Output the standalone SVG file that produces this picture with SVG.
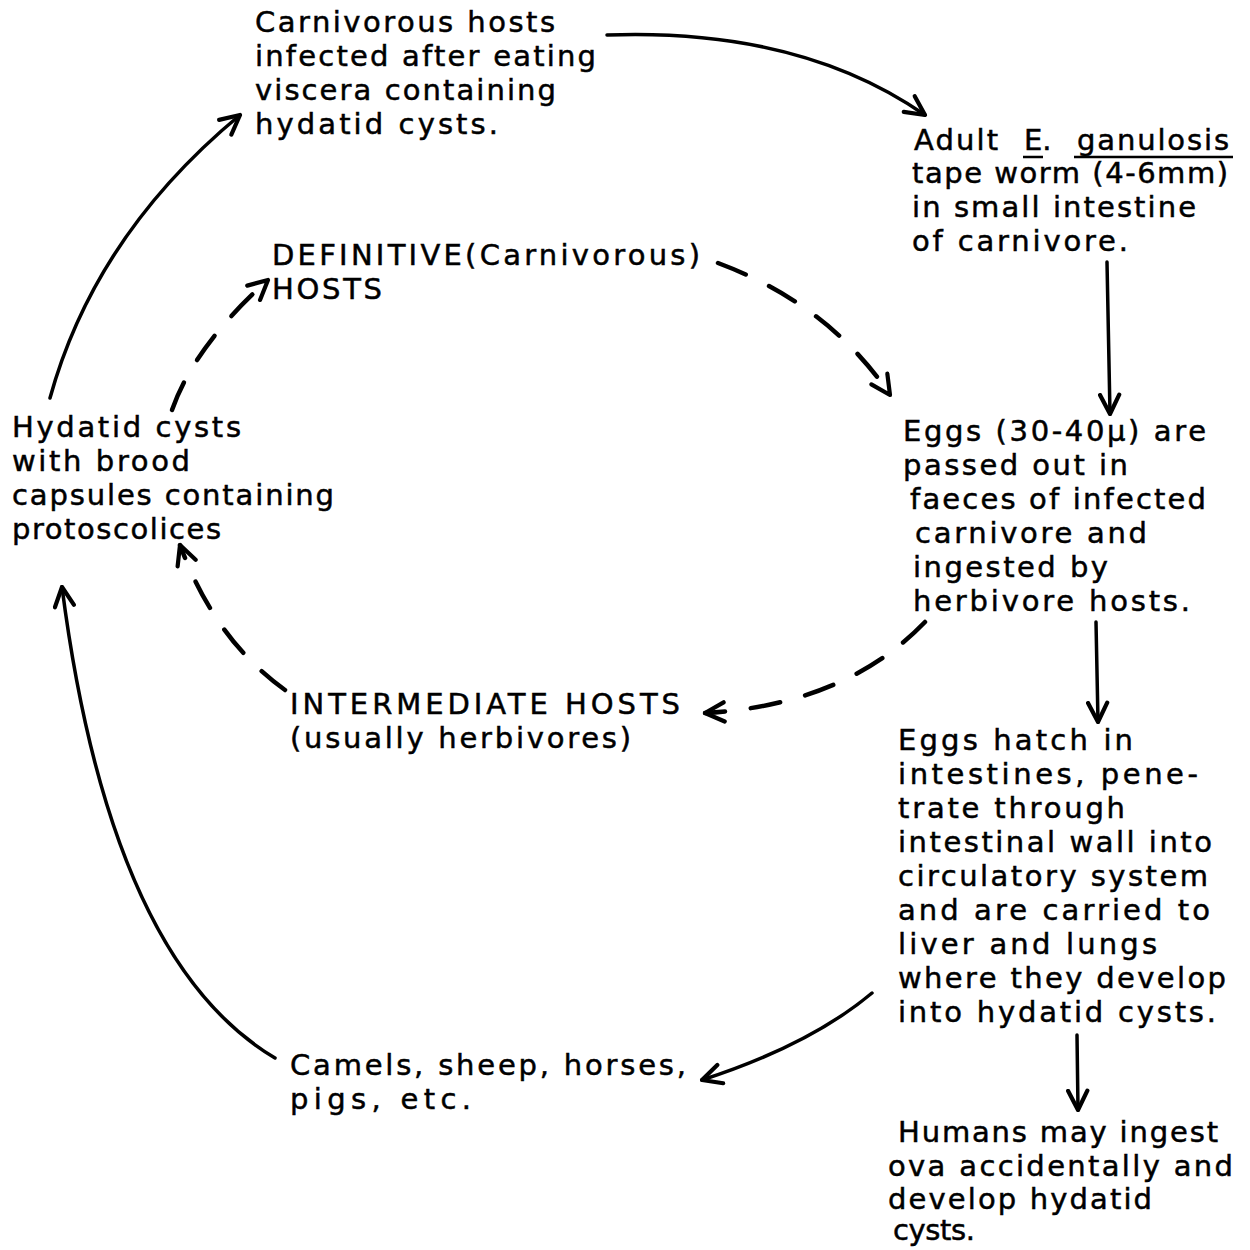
<svg xmlns="http://www.w3.org/2000/svg" width="1250" height="1250" viewBox="0 0 1250 1250">
<style>
text{font-family:"DejaVu Sans","Liberation Sans",sans-serif;font-size:29px;fill:#000;stroke:#000;stroke-width:0.5}
.c{fill:none;stroke:#000;stroke-width:3.5;stroke-linecap:round}
.d{fill:none;stroke:#000;stroke-width:4.5;stroke-linecap:round;stroke-dasharray:30 26}
.u{stroke:#000;stroke-width:2.5}
</style>
<defs>
<marker id="ah" viewBox="0 0 20 20" refX="18" refY="10" markerWidth="24" markerHeight="24" markerUnits="userSpaceOnUse" orient="auto">
<path d="M2 2 L18 10 L2 18" fill="none" stroke="#000" stroke-width="3.5" stroke-linecap="round" stroke-linejoin="round"/>
</marker>
</defs>
<rect width="1250" height="1250" fill="#fff"/>
<g id="connectors">
<path class="c" d="M607 35 Q800 28 925 115" marker-end="url(#ah)"/>
<path class="c" d="M1107 262 L1110 414" marker-end="url(#ah)"/>
<path class="c" d="M1096 622 L1098 722" marker-end="url(#ah)"/>
<path class="c" d="M1077 1035 L1078 1110" marker-end="url(#ah)"/>
<path class="c" d="M872 993 Q810 1045 702 1080" marker-end="url(#ah)"/>
<path class="c" d="M275 1058 Q110 960 62 587" marker-end="url(#ah)"/>
<path class="c" d="M50 398 Q95 235 240 115" marker-end="url(#ah)"/>
<path class="d" d="M172 410 Q195 345 268 280" marker-end="url(#ah)"/>
<path class="d" d="M718 263 Q830 305 890 395" marker-end="url(#ah)"/>
<path class="d" d="M925 622 Q845 705 705 713" marker-end="url(#ah)"/>
<path class="d" d="M285 690 Q215 640 180 545" marker-end="url(#ah)"/>
</g>
<g id="carnivorous-hosts">
<text x="255" y="32" textLength="300" lengthAdjust="spacing">Carnivorous hosts</text>
<text x="255" y="66" textLength="341" lengthAdjust="spacing">infected after eating</text>
<text x="255" y="100" textLength="301" lengthAdjust="spacing">viscera containing</text>
<text x="255" y="134" textLength="243" lengthAdjust="spacing">hydatid cysts.</text>
</g>
<g id="adult-worm">
<text x="914" y="150" textLength="84" lengthAdjust="spacing">Adult</text>
<text x="1024" y="150">E.</text>
<text x="1077" y="150" textLength="152" lengthAdjust="spacing">ganulosis</text>
<line class="u" x1="1023" y1="157" x2="1043" y2="157"/>
<line class="u" x1="1074" y1="157" x2="1233" y2="157"/>
<text x="912" y="183" textLength="316" lengthAdjust="spacing">tape worm (4-6mm)</text>
<text x="912" y="217" textLength="284" lengthAdjust="spacing">in small intestine</text>
<text x="912" y="251" textLength="216" lengthAdjust="spacing">of carnivore.</text>
</g>
<g id="definitive-hosts">
<text x="272" y="265" textLength="428" lengthAdjust="spacing">DEFINITIVE(Carnivorous)</text>
<text x="272" y="299" textLength="110" lengthAdjust="spacing">HOSTS</text>
</g>
<g id="hydatid-cysts">
<text x="12" y="437" textLength="229" lengthAdjust="spacing">Hydatid cysts</text>
<text x="12" y="471" textLength="178" lengthAdjust="spacing">with brood</text>
<text x="12" y="505" textLength="322" lengthAdjust="spacing">capsules containing</text>
<text x="12" y="539" textLength="209" lengthAdjust="spacing">protoscolices</text>
</g>
<g id="eggs">
<text x="903" y="441" textLength="303" lengthAdjust="spacing">Eggs (30-40μ) are</text>
<text x="903" y="475" textLength="225" lengthAdjust="spacing">passed out in</text>
<text x="910" y="509" textLength="296" lengthAdjust="spacing">faeces of infected</text>
<text x="915" y="543" textLength="232" lengthAdjust="spacing">carnivore and</text>
<text x="913" y="577" textLength="195" lengthAdjust="spacing">ingested by</text>
<text x="913" y="611" textLength="277" lengthAdjust="spacing">herbivore hosts.</text>
</g>
<g id="intermediate-hosts">
<text x="290" y="714" textLength="390" lengthAdjust="spacing">INTERMEDIATE HOSTS</text>
<text x="290" y="748" textLength="341" lengthAdjust="spacing">(usually herbivores)</text>
</g>
<g id="eggs-hatch">
<text x="898" y="750" textLength="235" lengthAdjust="spacing">Eggs hatch in</text>
<text x="898" y="784" textLength="300" lengthAdjust="spacing">intestines, pene-</text>
<text x="898" y="818" textLength="227" lengthAdjust="spacing">trate through</text>
<text x="898" y="852" textLength="314" lengthAdjust="spacing">intestinal wall into</text>
<text x="898" y="886" textLength="310" lengthAdjust="spacing">circulatory system</text>
<text x="898" y="920" textLength="312" lengthAdjust="spacing">and are carried to</text>
<text x="898" y="954" textLength="259" lengthAdjust="spacing">liver and lungs</text>
<text x="898" y="988" textLength="328" lengthAdjust="spacing">where they develop</text>
<text x="898" y="1022" textLength="318" lengthAdjust="spacing">into hydatid cysts.</text>
</g>
<g id="camels">
<text x="290" y="1075" textLength="396" lengthAdjust="spacing">Camels, sheep, horses,</text>
<text x="290" y="1109" textLength="181" lengthAdjust="spacing">pigs, etc.</text>
</g>
<g id="humans">
<text x="898" y="1142" textLength="320" lengthAdjust="spacing">Humans may ingest</text>
<text x="888" y="1176" textLength="345" lengthAdjust="spacing">ova accidentally and</text>
<text x="888" y="1209" textLength="264" lengthAdjust="spacing">develop hydatid</text>
<text x="893" y="1240" textLength="82" lengthAdjust="spacing">cysts.</text>
</g>
</svg>
